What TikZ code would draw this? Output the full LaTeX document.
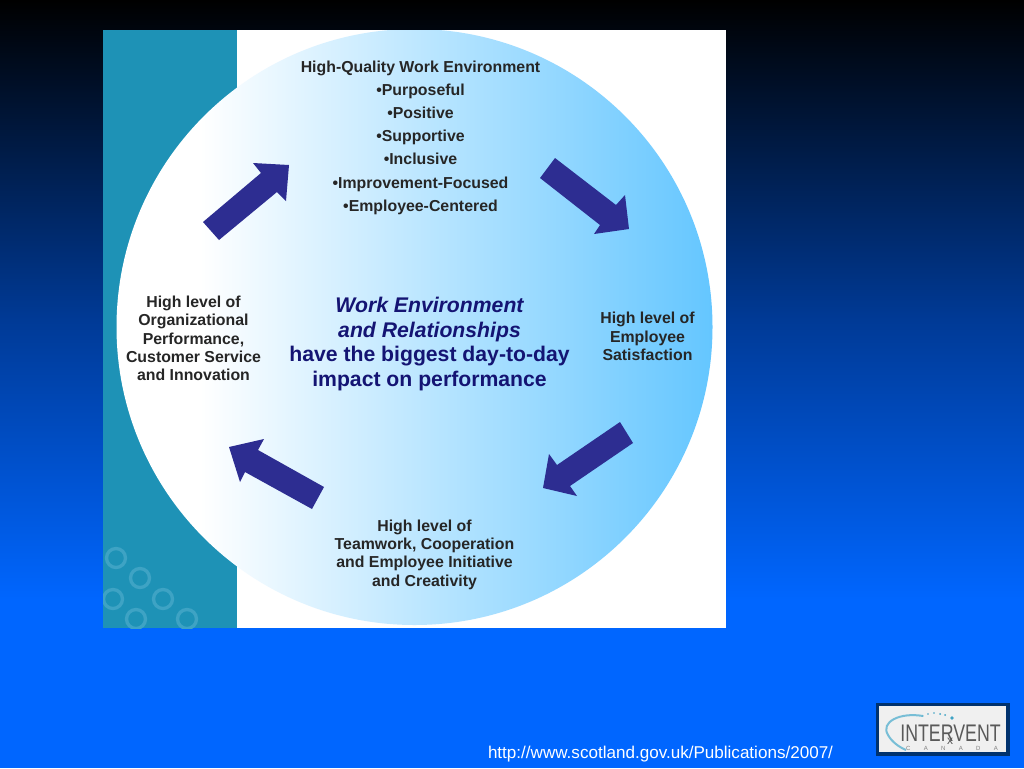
\documentclass[tikz,border=0pt]{standalone}
\usepackage{fontspec}
\setmainfont{Liberation Sans}
\usepackage{tikz}
\usetikzlibrary{positioning}
\definecolor{slideblue}{RGB}{0,102,255}
\definecolor{slidemid}{RGB}{0,58,150}
\definecolor{bandteal}{RGB}{30,146,182}
\definecolor{ringteal}{RGB}{62,163,196}
\definecolor{discblue}{RGB}{100,198,255}
\definecolor{arrowblue}{RGB}{45,45,145}
\definecolor{headnavy}{RGB}{20,20,115}
\definecolor{logonavy}{RGB}{0,50,110}
\tikzset{
    celltext/.style={inner sep=0.75pt,align=center,font=\fontsize{11.9}{13.8}\selectfont\bfseries,text=black!85},
    listtext/.style={celltext,font=\fontsize{11.9}{17.4}\selectfont\bfseries},
    ring/.style={draw=ringteal,line width=2.5pt},
    blockarrow/.style={fill=arrowblue,draw=none},
}
\begin{document}
\begin{tikzpicture}[x=0.75pt,y=0.75pt,yscale=-1,xscale=1]
            \useasboundingbox (0,0) rectangle (1024,768);
            %Background
            \fill [top color=black,bottom color=slidemid] (0,0) rectangle (1024,320);
            \fill [top color=slidemid,bottom color=slideblue] (0,320) rectangle (1024,600);
            \fill [slideblue] (0,600) rectangle (1024,768);

            %Shape: Panel
            \fill [white] (103,30) rectangle (726,628);
            \fill [bandteal] (103,30) rectangle (237,628);
            \begin{scope}
                \clip (103,30) rectangle (726,628);
                %Rings
                \draw [ring] (116,558) circle (9.5);
                \draw [ring] (140,578) circle (9.5);
                \draw [ring] (113,599) circle (9.5);
                \draw [ring] (163,599) circle (9.5);
                \draw [ring] (136,619) circle (9.5);
                \draw [ring] (187,619) circle (9.5);
                %Shape: Disc
                \clip (414.5,327) circle (298);
                \fill [white] (103,20) rectangle (200,640);
                \shade [left color=white,right color=discblue] (200,20) rectangle (713,640);
            \end{scope}

            %Shape: Arrow
            \fill [blockarrow] (203,222) -- (261,173) -- (253,163) -- (289,165) -- (286,201) -- (277,192) -- (219,240) -- cycle ;
            %Shape: Arrow
            \fill [blockarrow] (555,158) -- (616,205) -- (625,195) -- (629,229) -- (594,234) -- (600,225) -- (540,178) -- cycle ;
            %Shape: Arrow
            \fill [blockarrow] (620,422) -- (633,443) -- (570,486) -- (577,496) -- (543,488) -- (549,454) -- (557,465) -- cycle ;
            %Shape: Arrow
            \fill [blockarrow] (229,447) -- (264,439) -- (258,450) -- (324,487) -- (312,509) -- (245,472) -- (240,482) -- cycle ;

            % Text Node
            \node (qualitytext) [listtext] at (420.5,137.5) {High-Quality Work Environment\\•Purposeful\\•Positive\\•Supportive\\•Inclusive\\•Improvement-Focused\\•Employee-Centered};
            % Text Node
            \node (performancetext) [celltext] at (193.5,338.5) {High level of\\Organizational\\Performance,\\Customer Service\\and Innovation};
            % Text Node
            \node (satisfactiontext) [celltext] at (647.5,336.5) {High level of\\Employee\\Satisfaction};
            % Text Node
            \node (teamworktext) [celltext] at (424.5,554.5) {High level of\\Teamwork, Cooperation\\and Employee Initiative\\and Creativity};
            % Text Node
            \node (centertext) [inner sep=0.75pt,align=center,text=headnavy,font=\fontsize{15.9}{18.4}\selectfont\bfseries] at (429.5,344) {\itshape Work Environment\\\itshape and Relationships\\have the biggest day-to-day\\impact on performance};

            % Text Node
            \node (sourcetext) [inner sep=0.75pt,text=white,font=\fontsize{12.8}{14}\selectfont] at (660.5,754) {http://www.scotland.gov.uk/Publications/2007/};

            %Shape: Logo
            \draw [logonavy,line width=2.4pt,fill=white!94!black] (877.5,704.5) rectangle (1008,754);
            \draw [ringteal!70!white,line width=1.5pt] (923,716) .. controls (900,712) and (880,722) .. (888,735) .. controls (892,742) and (899,747) .. (906,750);
            \foreach \dotx/\doty/\dotr in {923/716/0.7,928/714/0.8,934/713/0.9,940/714/1,945/715/1,952/718/1.8} {
                \fill [ringteal] (\dotx,\doty) circle (\dotr);
            }
            \node (logotext) [inner sep=0,text=black!65,font=\fontsize{18}{18}\selectfont,xscale=0.74] at (950.5,733) {INTERVENT};
            \node (logorx) [inner sep=0,text=black!65,font=\fontsize{9}{9}\selectfont] at (950,741) {x};
            \node (logocanada) [inner sep=0,text=black!50,font=\fontsize{4.5}{5}\selectfont] at (952,748) {C\hspace{10pt}A\hspace{10pt}N\hspace{10pt}A\hspace{10pt}D\hspace{10pt}A};

        \end{tikzpicture}
\end{document}
